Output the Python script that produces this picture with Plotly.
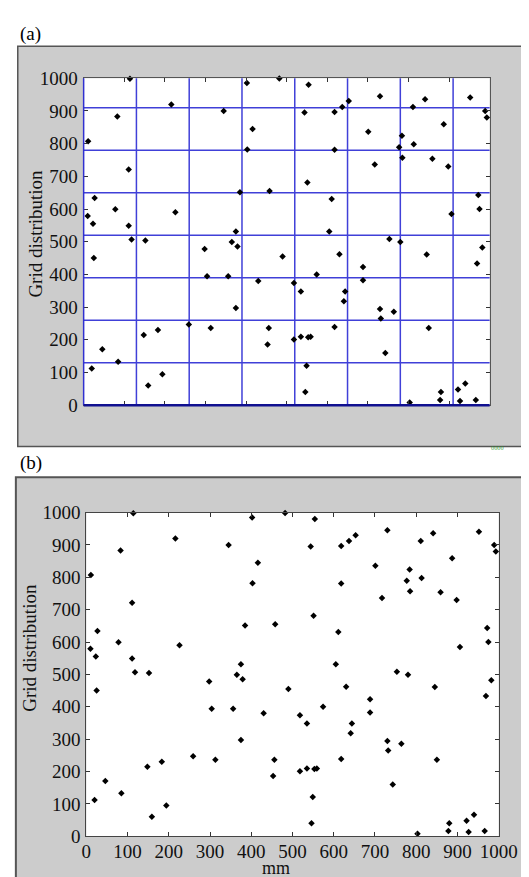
import plotly.graph_objects as go

# ---------------- data (mm positions of the points) ----------------
x_mm = [11, 114, 402, 216, 345, 83, 416, 403, 111, 385,
        27, 10, 78, 226, 23, 111, 375, 118, 152, 365,
        379, 298, 25, 304, 356, 430, 375, 259, 313, 183,
        148, 46, 85, 20, 194, 159, 482, 554, 730, 841,
        952, 653, 637, 811, 544, 618, 989, 993, 887, 701,
        784, 813, 777, 618, 785, 859, 717, 898, 551, 458,
        972, 611, 975, 906, 605, 753, 780, 982, 490, 845,
        969, 518, 574, 688, 688, 535, 630, 644, 641, 730,
        732, 764, 456, 453, 618, 850, 518, 535, 553, 559,
        743, 549, 546, 803, 880, 878, 922, 940, 927, 966]
y_grid = [807, 998, 985, 920, 900, 883, 845, 782, 721, 651,
          634, 579, 599, 590, 555, 549, 531, 507, 504, 499,
          485, 478, 450, 394, 394, 380, 297, 247, 236, 230,
          215, 171, 133, 112, 95, 60, 999, 980, 945, 936,
          941, 930, 912, 912, 895, 897, 900, 880, 859, 836,
          824, 798, 789, 781, 757, 754, 736, 730, 681, 655,
          643, 631, 600, 585, 531, 508, 499, 482, 455, 461,
          433, 374, 400, 423, 382, 348, 462, 348, 318, 294,
          265, 286, 236, 186, 239, 236, 201, 209, 208, 209,
          160, 121, 40, 8, 40, 16, 48, 66, 13, 16]

tick_vals = [0, 100, 200, 300, 400, 500, 600, 700, 800, 900, 1000]
tick_text = ["0", "100", "200", "300", "400", "500", "600", "700", "800", "900", "1000"]
grid_vals = [130, 260, 390, 520, 650, 780, 910]

y_title = "Grid distribution"
x_title = "mm"

# ---------------- layout helpers ----------------
W, H = 529, 877
FONT = "Liberation Serif, Times New Roman, serif"


def fx(p):
    return p / W


def fy(p):
    return 1 - p / H


fig = go.Figure()

marker = dict(symbol="diamond", size=5, color="black")
fig.add_trace(go.Scatter(x=x_mm, y=y_grid, mode="markers", marker=marker,
                         xaxis="x", yaxis="y", cliponaxis=False, showlegend=False))
fig.add_trace(go.Scatter(x=x_mm, y=y_grid, mode="markers", marker=marker,
                         xaxis="x2", yaxis="y2", cliponaxis=False, showlegend=False))

common = dict(range=[0, 1000], tickmode="array", tickvals=tick_vals, ticktext=tick_text,
              ticks="inside", ticklen=4, tickwidth=1, tickcolor="#333",
              showline=True, mirror="ticks", showgrid=False, zeroline=False,
              tickfont=dict(family=FONT, size=19, color="#111"), fixedrange=True)

fig.update_layout(
    width=W, height=H,
    margin=dict(l=0, r=0, t=0, b=0),
    paper_bgcolor="white",
    plot_bgcolor="rgba(0,0,0,0)",
    xaxis=dict(domain=[fx(74), fx(499.3)], anchor="y", showticklabels=False,
               linecolor="#555", linewidth=1, **common),
    yaxis=dict(domain=[fy(396.7), fy(61.7)], anchor="x", showticklabels=True,
               linecolor="#555", linewidth=1, ticklabelstandoff=1, **common),
    xaxis2=dict(domain=[fx(76.8), fx(508.8)], anchor="y2", showticklabels=True,
                linecolor="#444", linewidth=1, ticklabelstandoff=-2, **common),
    yaxis2=dict(domain=[fy(838.3), fy(506.7)], anchor="x2", showticklabels=True,
                linecolor="#444", linewidth=1, ticklabelstandoff=1, **common),
)

shapes = []
# grey panels
shapes.append(dict(type="rect", xref="paper", yref="paper", x0=fx(5), x1=fx(535),
                   y0=fy(439), y1=fy(29), fillcolor="#cccccc",
                   line=dict(color="#555", width=1.5), layer="below"))
shapes.append(dict(type="rect", xref="paper", yref="paper", x0=fx(3), x1=fx(535),
                   y0=fy(885), y1=fy(470.5), fillcolor="#cccccc",
                   line=dict(color="#555", width=2), layer="below"))
# white plotting areas
shapes.append(dict(type="rect", xref="x domain", yref="y domain", x0=0, x1=1, y0=0, y1=1,
                   fillcolor="white", line=dict(width=0), layer="below"))
shapes.append(dict(type="rect", xref="x2 domain", yref="y2 domain", x0=0, x1=1, y0=0, y1=1,
                   fillcolor="white", line=dict(width=0), layer="below"))
# blue grid of panel (a)
for g in grid_vals:
    shapes.append(dict(type="line", xref="x", yref="y domain", x0=g, x1=g, y0=0, y1=1,
                       line=dict(color="#4040d8", width=1.5), layer="below"))
    shapes.append(dict(type="line", xref="x domain", yref="y", x0=0, x1=1, y0=g, y1=g,
                       line=dict(color="#4040d8", width=1.5), layer="below"))
# blue left / bottom axis lines of panel (a)
shapes.append(dict(type="line", xref="x domain", yref="y domain", x0=0, x1=0, y0=0, y1=1,
                   line=dict(color="#3030d0", width=1.5), layer="above"))
shapes.append(dict(type="line", xref="x domain", yref="y domain", x0=0, x1=1, y0=0, y1=0,
                   line=dict(color="#101090", width=2.5), layer="above"))
fig.update_layout(shapes=shapes)

ann = []
ann.append(dict(text="(a)", xref="paper", yref="paper", x=fx(5), y=fy(16),
                xanchor="left", yanchor="middle", showarrow=False,
                font=dict(family=FONT, size=19, color="black")))
ann.append(dict(text="(b)", xref="paper", yref="paper", x=fx(5), y=fy(456),
                xanchor="left", yanchor="middle", showarrow=False,
                font=dict(family=FONT, size=19, color="black")))
ann.append(dict(text=y_title, xref="paper", yref="paper", x=fx(24), y=fy(221),
                textangle=-90, xanchor="center", yanchor="middle", showarrow=False,
                font=dict(family=FONT, size=19, color="#111")))
ann.append(dict(text=y_title, xref="paper", yref="paper", x=fx(17), y=fy(645),
                textangle=-90, xanchor="center", yanchor="middle", showarrow=False,
                font=dict(family=FONT, size=19, color="#111")))
ann.append(dict(text=x_title, xref="paper", yref="paper", x=fx(276), y=fy(871),
                xanchor="center", yanchor="middle", showarrow=False,
                font=dict(family=FONT, size=18, color="#111")))
ann.append(dict(text="0000", xref="paper", yref="paper", x=fx(508), y=fy(441),
                xanchor="center", yanchor="middle", showarrow=False,
                font=dict(family="DejaVu Sans", size=5, color="#2a9a2a")))
fig.update_layout(annotations=ann)

fig.write_html("out.html")
